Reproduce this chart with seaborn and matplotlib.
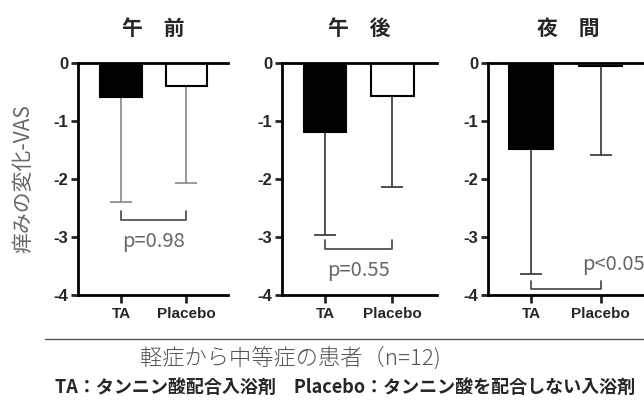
import matplotlib
matplotlib.use("Agg")
import matplotlib.pyplot as plt
import pandas as pd
import seaborn as sns
from matplotlib.lines import Line2D

# data
groups = ["TA", "Placebo"]
periods = ["午　前", "午　後", "夜　間"]
mean_am = [-0.59, -0.40]
mean_pm = [-1.19, -0.57]
mean_night = [-1.49, -0.06]
sd_am = [1.81, 1.67]
sd_pm = [1.78, 1.56]
sd_night = [2.15, 1.52]
p_labels = ["p=0.98", "p=0.55", "p<0.05"]
bracket_y = [-2.70, -3.20, -3.90]
y_ticks = [0, -1, -2, -3, -4]

sns.set_style("ticks")
plt.rcParams["font.family"] = ["Liberation Sans", "Noto Sans CJK JP"]
plt.rcParams["axes.unicode_minus"] = False
cjk = ["Noto Sans CJK JP", "DejaVu Sans"]

fig = plt.figure(figsize=(6.44, 4.01), dpi=100)

means = [mean_am, mean_pm, mean_night]
sds = [sd_am, sd_pm, sd_night]
err_colors = ["#888888", "#333333", "#333333"]
# panel left edges / widths in pixels
lefts = [78, 282, 488]
widths = [150, 155, 160]

for i in range(3):
    ax = fig.add_axes([lefts[i] / 644, 1 - 295 / 401, widths[i] / 644, (295 - 63) / 401])
    df = pd.DataFrame({"group": groups, "mean": means[i]})
    sns.barplot(data=df, x="group", y="mean", hue="group", palette=["black", "white"],
                edgecolor="black", linewidth=1.5, width=0.63, errorbar=None,
                legend=False, ax=ax, zorder=2)
    # one-sided (downward) error bars
    ax.errorbar([0, 1], means[i], yerr=[sds[i], [0, 0]], fmt="none",
                ecolor=err_colors[i], elinewidth=1.2, capsize=8, capthick=1.2, zorder=1)
    # significance bracket
    by = bracket_y[i]
    ax.plot([0, 0, 1, 1], [by + 0.15, by, by, by + 0.15], color="#444444", lw=1.2, clip_on=False)
    if i < 2:
        ax.text(0.5, by - 0.38, p_labels[i], ha="center", va="center", fontsize=14.5,
                color="#666666", family=cjk)
    else:
        ax.text(0.73, -3.47, p_labels[i], ha="left", va="center", fontsize=14.5,
                color="#666666", family=cjk, clip_on=False)

    unit = widths[i] / 2.3
    ax.set_xlim(-43 / unit, -43 / unit + widths[i] / unit)
    ax.set_ylim(-4, 0)
    ax.set_yticks(y_ticks)
    ax.set_yticklabels([str(t) for t in y_ticks], fontsize=12, fontweight="bold")
    ax.set_xticks([0, 1])
    ax.set_xticklabels(groups, fontsize=11, fontweight="bold")
    ax.set_xlabel("")
    ax.set_ylabel("")
    for s in ["left", "bottom", "top"]:
        ax.spines[s].set_linewidth(2)
        ax.spines[s].set_color("black")
    ax.spines["right"].set_visible(False)
    ax.tick_params(axis="y", width=2, length=5, pad=2)
    ax.tick_params(axis="x", width=2, length=6, pad=3)
    ax.set_title(periods[i], fontsize=15, fontweight="bold", family=cjk, pad=20)
    if i == 0:
        ax.set_ylabel("痒みの変化-VAS", fontsize=15, color="#666666", family=cjk, labelpad=14)

fig.add_artist(Line2D([45 / 644, 1.0], [1 - 339 / 401, 1 - 339 / 401], color="#555555", lw=1))
fig.text(140 / 644, 1 - 358 / 401, "軽症から中等症の患者（n=12)", ha="left", va="center",
         fontsize=16, color="#555555", family=cjk, fontweight="light")
fig.text(55 / 644, 1 - 387 / 401, "TA：タンニン酸配合入浴剤　Placebo：タンニン酸を配合しない入浴剤",
         ha="left", va="center", fontsize=13, fontweight="bold", family=cjk)

fig.savefig("out.png", dpi=100)
